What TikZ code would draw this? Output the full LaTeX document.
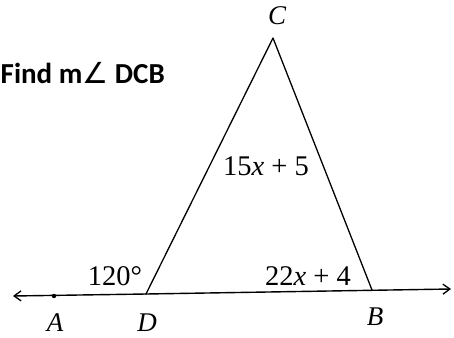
\documentclass[tikz,border=0pt]{standalone}
\usepackage{fontspec}
\setmainfont{Liberation Serif}
\newfontfamily\qfont{Carlito}
\newfontfamily\symfont{DejaVu Sans}
\usetikzlibrary{arrows.meta}
\begin{document}
\begin{tikzpicture}[x=1pt,y=-1pt,
  lbl/.style={inner sep=0pt,font=\fontsize{28.5}{32}\selectfont},
  pt/.style={inner sep=0pt,anchor=base,font=\fontsize{27}{30}\selectfont\itshape},
  seg/.style={line width=1.4pt,line cap=round,line join=round},
  tip/.style={-{Straight Barb[length=7pt,width=10pt,line width=1.3pt]}}]
\useasboundingbox (0,0) rectangle (454,337);
\coordinate (L) at (13,296);
\coordinate (R) at (451,289);
\coordinate (A) at (54,296);
\coordinate (D) at (146,294);
\coordinate (B) at (372,290);
\coordinate (C) at (273,38);
% line with arrows
\draw[seg,tip] (D) -- (L);
\draw[seg,tip] (D) -- (R);
\fill (A) circle (2.2pt);
% triangle sides
\draw[seg,line width=1.3pt] (D) -- (C) -- (B);
% labels
\node[pt] (lA) at (55,331) {A};
\node[pt] (lD) at (147,331) {D};
\node[pt] (lB) at (375,325) {B};
\node[pt] (lC) at (277,25) {C};
\node[lbl] (a120) at (115,276) {120°};
\node[lbl] (eDB) at (308,276) {22\textit{x} + 4};
\node[lbl] (eCD) at (266,166) {15\textit{x} + 5};
\node[inner sep=0pt,anchor=base west,font=\fontsize{29}{34}\selectfont\qfont\bfseries] (q) at (0.5,83) {Find m{\symfont\mdseries∠} DCB};
\end{tikzpicture}
\end{document}
